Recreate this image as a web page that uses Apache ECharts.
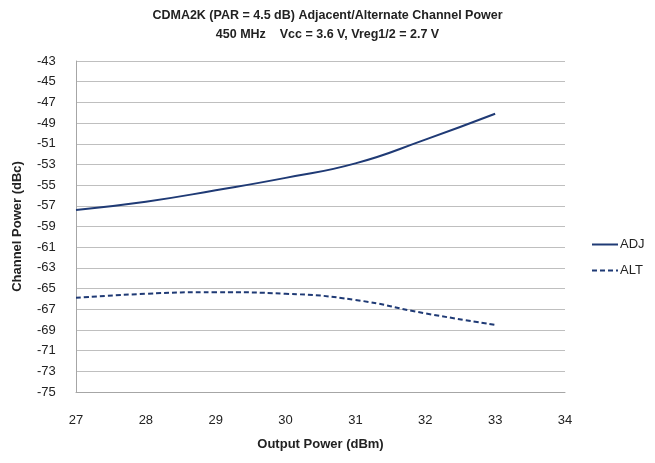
<!DOCTYPE html>
<html>
<head>
<meta charset="utf-8">
<script src="https://cdn.jsdelivr.net/npm/echarts@6/dist/echarts.min.js"></script>
<style>
  html, body { margin: 0; padding: 0; background: #fff; }
  #chart { width: 655px; height: 463px; }
</style>
</head>
<body>
<div id="chart"></div>
<script>
// values
const outputPower = [27, 28, 29, 30, 31, 32, 33]
const adjPower = [-57.4, -56.6, -55.5, -54.3, -52.9, -50.6, -48.1]
const altPower = [-65.9, -65.5, -65.35, -65.5, -66.1, -67.4, -68.5]

const font = 'Liberation Sans, Arial, sans-serif'
const navy = '#1f3a75'

const myChart = echarts.init(document.getElementById('chart'))

const option = {
  backgroundColor: '#fff',
  animation: false,
  title: {
    text: 'CDMA2K (PAR = 4.5 dB) Adjacent/Alternate Channel Power\n450 MHz    Vcc = 3.6 V, Vreg1/2 = 2.7 V',
    left: 'center',
    top: 1,
    textStyle: {
      fontFamily: font,
      fontSize: 12.5,
      fontWeight: 'bold',
      color: '#222',
      lineHeight: 19,
    },
  },
  legend: {
    orient: 'vertical',
    left: 586,
    top: 233,
    itemGap: 13,
    itemWidth: 26,
    itemHeight: 10,
    itemStyle: { opacity: 0 },
    textStyle: { fontFamily: font, fontSize: 13, color: '#222', padding: [0, 0, 0, -3] },
    data: ['ADJ', 'ALT'],
  },
  grid: {
    left: 76,
    right: 90,
    top: 61,
    bottom: 71,
  },
  xAxis: {
    type: 'value',
    min: 27,
    max: 34,
    interval: 1,
    name: 'Output Power (dBm)',
    nameLocation: 'middle',
    nameGap: 46,
    nameTextStyle: { fontFamily: font, fontSize: 13, fontWeight: 'bold', color: '#222' },
    axisLine: { lineStyle: { color: '#a6a6a6' } },
    axisTick: { show: false },
    axisLabel: { fontFamily: font, fontSize: 13, color: '#222', margin: 22 },
    splitLine: { show: false },
  },
  yAxis: {
    type: 'value',
    min: -75,
    max: -43,
    interval: 2,
    name: 'Channel Power (dBc)',
    nameLocation: 'middle',
    nameGap: 52,
    nameTextStyle: { fontFamily: font, fontSize: 13, fontWeight: 'bold', color: '#222' },
    axisLine: { show: true, lineStyle: { color: '#a6a6a6' } },
    axisTick: { show: false },
    axisLabel: { fontFamily: font, fontSize: 13, color: '#222', margin: 12, align: 'left', padding: [0, 0, 0, -27] },
    splitLine: { lineStyle: { color: '#bfbfbf', width: 1 } },
  },
  series: [
    {
      name: 'ADJ',
      type: 'line',
      smooth: true,
      symbol: 'none',
      data: outputPower.map((x, i) => [x, adjPower[i]]),
      lineStyle: { color: navy, width: 2 },
      itemStyle: { color: navy },
    },
    {
      name: 'ALT',
      type: 'line',
      smooth: true,
      symbol: 'none',
      data: outputPower.map((x, i) => [x, altPower[i]]),
      lineStyle: { color: navy, width: 2, type: [5, 3] },
      itemStyle: { color: navy },
    },
  ],
}

option && myChart.setOption(option)
</script>
</body>
</html>
